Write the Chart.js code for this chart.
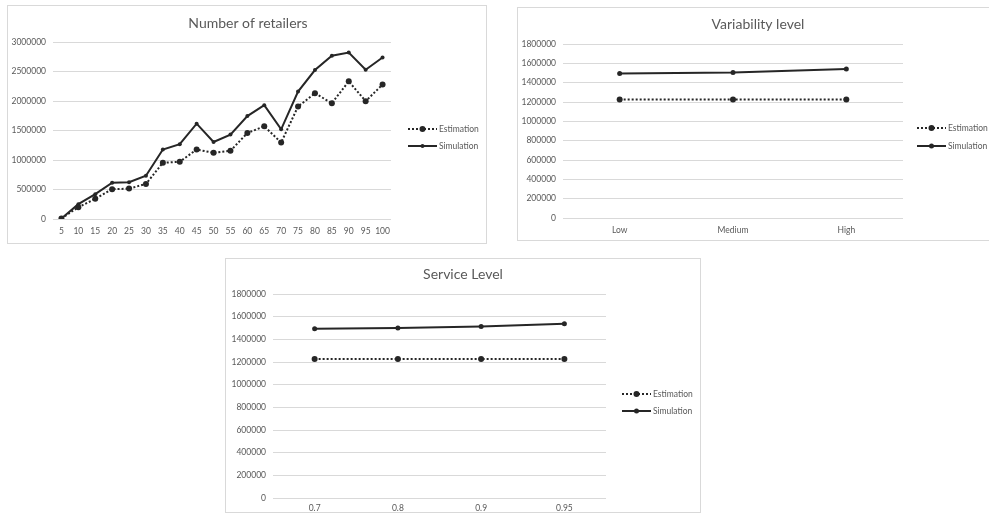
<!DOCTYPE html>
<html>
<head>
<meta charset="utf-8">
<script src="https://cdn.jsdelivr.net/npm/chart.js@4.4.1/dist/chart.umd.min.js"></script>
<style>
  html, body { margin: 0; padding: 0; background: #fff; }
  body { width: 989px; height: 523px; position: relative; overflow: hidden; }
  .box { position: absolute; border: 1px solid #d9d9d9; background: #fff; }
  .box canvas { display: block; }
</style>
</head>
<body>
<div class="box" style="left:7px;top:5px;width:478px;height:237px;"><canvas id="retailers"></canvas></div>
<div class="box" style="left:517px;top:7px;width:478px;height:232px;"><canvas id="variability"></canvas></div>
<div class="box" style="left:225px;top:258px;width:474px;height:253px;"><canvas id="service"></canvas></div>
<script>
// values
const retailerCats = ['5', '10', '15', '20', '25', '30', '35', '40', '45', '50', '55', '60', '65', '70', '75', '80', '85', '90', '95', '100'];
const retailerEstimation = [10000, 200000, 342000, 505000, 515000, 594000, 953000, 970000, 1178000, 1121000, 1155000, 1458000, 1571000, 1296000, 1907000, 2131000, 1963000, 2333000, 1997000, 2278000];
const retailerSimulation = [10000, 252000, 421000, 616000, 623000, 734000, 1178000, 1268000, 1616000, 1306000, 1431000, 1744000, 1929000, 1520000, 2160000, 2525000, 2766000, 2822000, 2530000, 2737000];

const variabilityCats = ['Low', 'Medium', 'High'];
const variabilityEstimation = [1225000, 1226000, 1227000];
const variabilitySimulation = [1494000, 1504000, 1541000];

const serviceCats = ['0.7', '0.8', '0.9', '0.95'];
const serviceEstimation = [1227000, 1227000, 1227000, 1227000];
const serviceSimulation = [1493000, 1499000, 1513000, 1537000];

const seriesNames = ['Estimation', 'Simulation'];

const textColor = '#595959';
const gridColor = '#d9d9d9';
const lineColor = '#262626';
const fontFamily = 'Lato, "Open Sans", sans-serif';

// draws the excel-like title and the line+marker legend
const excelDecor = {
  id: 'excelDecor',
  afterDraw(chart, args, opts) {
    const ctx = chart.ctx;
    ctx.save();
    ctx.fillStyle = textColor;
    ctx.font = '14px ' + fontFamily;
    ctx.textAlign = 'center';
    ctx.textBaseline = 'middle';
    ctx.fillText(opts.title, opts.titleX, opts.titleY);

    chart.data.datasets.forEach((ds, i) => {
      const y = opts.legendY[i];
      const x0 = opts.legendX;
      ctx.strokeStyle = lineColor;
      ctx.lineWidth = 2;
      ctx.setLineDash(ds.borderDash || []);
      ctx.beginPath();
      ctx.moveTo(x0, y);
      ctx.lineTo(x0 + 29, y);
      ctx.stroke();
      ctx.setLineDash([]);
      ctx.fillStyle = lineColor;
      ctx.beginPath();
      ctx.arc(x0 + 14.5, y, ds.pointRadius, 0, Math.PI * 2);
      ctx.fill();
      ctx.fillStyle = textColor;
      ctx.font = '8.5px ' + fontFamily;
      ctx.textAlign = 'left';
      ctx.fillText(ds.label, x0 + 31, y);
    });
    ctx.restore();
  }
};

function makeChart(id, w, h, cats, est, sim, cfg) {
  const canvas = document.getElementById(id);
  canvas.width = w;
  canvas.height = h;
  canvas.style.width = w + 'px';
  canvas.style.height = h + 'px';

  return new Chart(canvas.getContext('2d'), {
    type: 'line',
    data: {
      labels: cats,
      datasets: [{
        label: seriesNames[0],
        data: est,
        borderColor: lineColor,
        backgroundColor: lineColor,
        borderWidth: 2,
        borderDash: [2, 2],
        pointRadius: 3,
        pointBorderWidth: 0,
        tension: 0
      }, {
        label: seriesNames[1],
        data: sim,
        borderColor: lineColor,
        backgroundColor: lineColor,
        borderWidth: 2,
        pointRadius: cfg.simRadius,
        pointBorderWidth: 0,
        tension: 0
      }]
    },
    plugins: [excelDecor],
    options: {
      responsive: false,
      animation: false,
      devicePixelRatio: 1,
      layout: { padding: cfg.padding },
      scales: {
        x: {
          offset: true,
          grid: { display: false, drawTicks: false },
          border: { display: false },
          ticks: { color: textColor, font: { family: fontFamily, size: 8.5 }, padding: cfg.xPad, maxRotation: 0, autoSkip: false },
          afterFit: s => { s.height = cfg.xHeight; }
        },
        y: {
          min: 0,
          max: cfg.max,
          grid: { color: gridColor, lineWidth: 1, drawTicks: false },
          border: { display: false },
          ticks: {
            stepSize: cfg.step,
            color: textColor,
            font: { family: fontFamily, size: 8.5 },
            padding: 7,
            callback: v => String(v)
          },
          afterFit: s => { s.width = cfg.yWidth; }
        }
      },
      plugins: {
        legend: { display: false },
        tooltip: { enabled: false },
        title: { display: false },
        excelDecor: {
          title: cfg.title,
          titleX: cfg.titleX,
          titleY: cfg.titleY,
          legendX: cfg.legendX,
          legendY: cfg.legendY
        }
      }
    }
  });
}

makeChart('retailers', 478, 237, retailerCats, retailerEstimation, retailerSimulation, {
  title: 'Number of retailers', titleX: 240, titleY: 17,
  max: 3000000, step: 500000, simRadius: 2,
  padding: { top: 36, right: 95, bottom: 0, left: 0 },
  yWidth: 45, xHeight: 24, xPad: 7,
  legendX: 400, legendY: [123, 140]
});

makeChart('variability', 478, 232, variabilityCats, variabilityEstimation, variabilitySimulation, {
  title: 'Variability level', titleX: 240, titleY: 16,
  max: 1800000, step: 200000, simRadius: 2.5,
  padding: { top: 36, right: 93, bottom: 0, left: 0 },
  yWidth: 45, xHeight: 22, xPad: 7,
  legendX: 399, legendY: [120, 138]
});

makeChart('service', 474, 253, serviceCats, serviceEstimation, serviceSimulation, {
  title: 'Service Level', titleX: 237, titleY: 15,
  max: 1800000, step: 200000, simRadius: 2.5,
  padding: { top: 35, right: 94, bottom: 0, left: 0 },
  yWidth: 47, xHeight: 14, xPad: 5,
  legendX: 396, legendY: [135, 152]
});
</script>
</body>
</html>
